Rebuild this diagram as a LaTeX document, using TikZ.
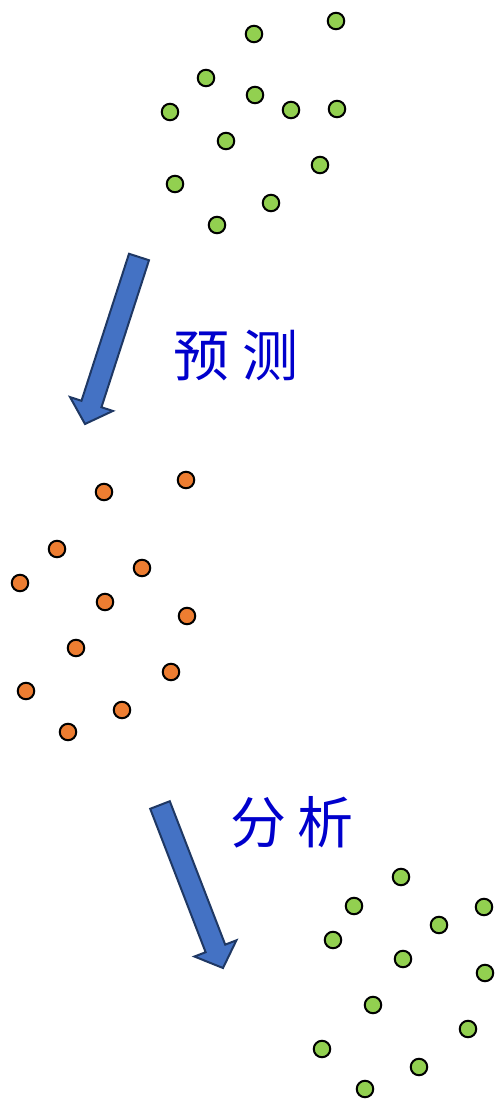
\documentclass[tikz,border=0pt]{standalone}
\usepackage{fontspec}
\newfontfamily\cjk{Noto Sans CJK SC}
\usetikzlibrary{calc}
\definecolor{dotgreen}{HTML}{92D050}
\definecolor{dotorange}{HTML}{ED7D31}
\definecolor{arrowblue}{HTML}{4472C4}
\definecolor{arrowline}{HTML}{1F3864}
\definecolor{textblue}{HTML}{0000CC}

\newcommand{\blockarrow}[2]{%
    \coordinate (hb) at ($(#2)!21pt!(#1)$) ;
    \draw[bigarrow] ($(#1)!10.5pt!90:(#2)$) -- ($(hb)!10.5pt!90:(#2)$) -- ($(hb)!22.5pt!90:(#2)$)
        -- (#2) -- ($(hb)!22.5pt!-90:(#2)$) -- ($(hb)!10.5pt!-90:(#2)$) -- ($(#1)!10.5pt!-90:(#2)$) -- cycle ;
}

\begin{document}
\begin{tikzpicture}[x=1pt, y=-1pt,
    dot/.style={circle, draw=black, line width=2pt, minimum size=16.5pt, inner sep=0pt},
    gdot/.style={dot, fill=dotgreen},
    odot/.style={dot, fill=dotorange},
    bigarrow/.style={fill=arrowblue, draw=arrowline, line width=2pt, line join=miter},
    label/.style={font=\cjk\fontsize{56}{60}\selectfont, text=textblue, inner sep=0pt}]
    \useasboundingbox (0,0) rectangle (497,1100) ;

    \foreach \x/\y [count=\i] in {254/34, 336/21, 206/78, 255/95, 291/110, 337/109, 170/112, 226/141, 320/165, 175/184, 271/203, 217/225}
        \node[gdot] (top\i) at (\x,\y) {} ;

    \foreach \x/\y [count=\i] in {104/492, 186/480, 57/549, 20/583, 142/568, 105/602, 187/616, 76/648, 26/691, 171/672, 122/710, 68/732}
        \node[odot] (mid\i) at (\x,\y) {} ;

    \foreach \x/\y [count=\i] in {401/877, 354/906, 484/907, 439/925, 333/940, 403/959, 485/973, 373/1005, 468/1029, 322/1049, 419/1067, 365/1089}
        \node[gdot] (bot\i) at (\x,\y) {} ;

    \coordinate (tailA) at (139,257) ;
    \coordinate (tipA) at (85,424) ;
    \blockarrow{tailA}{tipA}
    \coordinate (tailB) at (160,805) ;
    \coordinate (tipB) at (223,968) ;
    \blockarrow{tailB}{tipB}

    \node[label] (predict) at (236,355) {预\hspace{13pt}测} ;
    \node[label] (analyse) at (292,822) {分\hspace{11pt}析} ;
\end{tikzpicture}
\end{document}
